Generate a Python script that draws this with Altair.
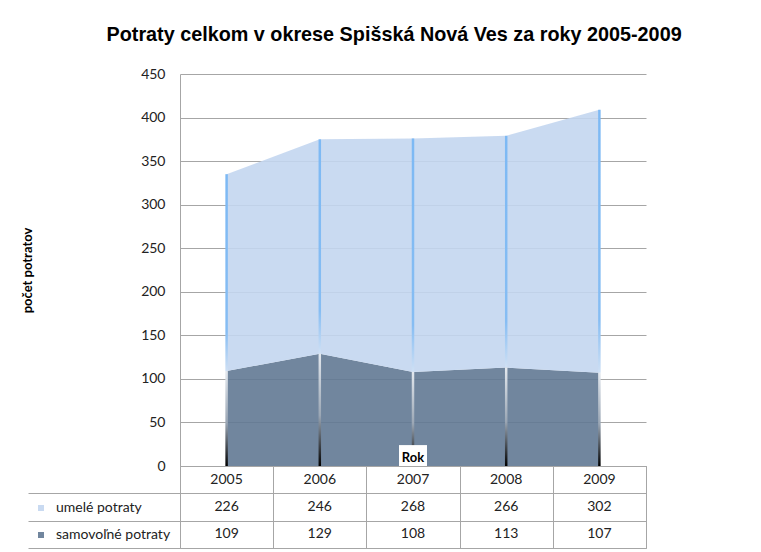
import altair as alt
import pandas as pd

years = ["2005", "2006", "2007", "2008", "2009"]
umele = [226, 246, 268, 266, 302]
samovolne = [109, 129, 108, 113, 107]
series_names = ["umelé potraty", "samovoľné potraty"]
series_colors = ["#c3d6ef", "#627993"]
y_ticks = [0, 50, 100, 150, 200, 250, 300, 350, 400, 450]

FONT = "Lato"
W, H, TH = 466, 392, 82
GRID = "#a6a6a6"

totals = [s + u for s, u in zip(samovolne, umele)]

long_rows = []
for i, yr in enumerate(years):
    long_rows.append({"Rok": yr, "séria": series_names[1], "dolné": 0, "horné": samovolne[i]})
    long_rows.append({"Rok": yr, "séria": series_names[0], "dolné": samovolne[i], "horné": totals[i]})
long = pd.DataFrame(long_rows)
wide = pd.DataFrame({"Rok": years, "sam": samovolne, "total": totals})

x_pt = alt.X("Rok:O", scale=alt.Scale(domain=years, type="point", padding=0.5), axis=None)
y_scale = alt.Scale(domain=[0, 450], nice=False)

area = alt.Chart(long).mark_area(opacity=0.9).encode(
    x=x_pt,
    y=alt.Y("horné:Q", scale=y_scale,
            axis=alt.Axis(values=y_ticks, grid=True, gridColor=GRID, gridWidth=1,
                          domainColor=GRID, ticks=False, labelFont=FONT, labelFontSize=14,
                          labelColor="#222", labelPadding=15,
                          title="počet potratov", titleFont=FONT, titleFontSize=13,
                          titleFontWeight="bold", titleColor="black", titlePadding=106)),
    y2="dolné:Q",
    color=alt.Color("séria:N",
                    scale=alt.Scale(domain=series_names, range=series_colors),
                    legend=alt.Legend(orient="none", legendX=-146, legendY=427, title=None,
                                      symbolType="square", symbolSize=36, symbolStrokeWidth=0,
                                      symbolOpacity=0.9,
                                      labelFont=FONT, labelFontSize=14, labelColor="#222",
                                      labelOffset=8, rowPadding=13, padding=0)),
)

blue_grad = alt.Gradient(gradient="linear",
                         stops=[alt.GradientStop(color="#7db9f4", offset=0),
                                alt.GradientStop(color="#86bdf3", offset=0.8),
                                alt.GradientStop(color="#cfe0f4", offset=1)],
                         x1=0, x2=0, y1=0, y2=1)
dark_grad = alt.Gradient(gradient="linear",
                         stops=[alt.GradientStop(color="#e3e8ee", offset=0),
                                alt.GradientStop(color="#9aa6b4", offset=0.55),
                                alt.GradientStop(color="#000000", offset=1)],
                         x1=0, x2=0, y1=0, y2=1)

blue_lines = alt.Chart(wide).mark_bar(size=2.5, color=blue_grad).encode(
    x=x_pt, y=alt.Y("total:Q", scale=y_scale), y2="sam:Q")
dark_lines = alt.Chart(wide).mark_bar(size=2.5, color=dark_grad).encode(
    x=x_pt, y=alt.Y("sam:Q", scale=y_scale), y2=alt.datum(0))

rok_df = pd.DataFrame({"Rok": ["2007"], "label": ["Rok"]})
rok_bg = alt.Chart(rok_df).mark_bar(size=28, color="white").encode(
    x=x_pt, y=alt.datum(0), y2=alt.datum(24))
rok_txt = alt.Chart(rok_df).mark_text(font=FONT, fontSize=13, fontWeight="bold",
                                      color="black", baseline="middle").encode(
    x=x_pt, y=alt.datum(9), text="label:N")

top = alt.layer(area, blue_lines, dark_lines, rok_bg, rok_txt).properties(
    width=W, height=H, view=alt.ViewBackground(stroke=None))

tab_rows = []
for i, yr in enumerate(years):
    tab_rows.append({"Rok": yr, "riadok": "hdr", "text": yr})
    tab_rows.append({"Rok": yr, "riadok": "u", "text": str(umele[i])})
    tab_rows.append({"Rok": yr, "riadok": "s", "text": str(samovolne[i])})
tab = pd.DataFrame(tab_rows)

table = alt.Chart(tab).mark_text(font=FONT, fontSize=14, color="#222", baseline="middle").encode(
    x=alt.X("Rok:N", scale=alt.Scale(domain=years, paddingInner=0, paddingOuter=0),
            axis=alt.Axis(labels=False, ticks=False, domain=False, title=None, grid=True,
                          tickBand="extent", gridColor=GRID)),
    y=alt.Y("riadok:N", scale=alt.Scale(domain=["hdr", "u", "s"], paddingInner=0, paddingOuter=0),
            axis=alt.Axis(labels=False, domain=False, title=None, grid=True, tickBand="extent",
                          gridColor=GRID, ticks=True, tickSize=152, tickColor=GRID,
                          tickOpacity={"condition": {"test": "datum.index < 0 || !isValid(datum.value)",
                                                     "value": 0},
                                       "value": 1})),
    text="text:N",
).properties(width=W, height=TH, view=alt.ViewBackground(stroke=GRID))

chart = alt.vconcat(top, table, spacing=0, bounds="flush").resolve_scale(
    color="independent"
).properties(
    title=alt.TitleParams("Potraty celkom v okrese Spišská Nová Ves za roky 2005-2009",
                          font="Liberation Sans", fontSize=19.8, fontWeight="bold",
                          color="black", anchor="middle", dx=60, offset=22),
    padding={"left": 13, "top": 17, "right": 10, "bottom": 0},
    background="white",
)

chart.save("out.html", embed_options={"renderer": "svg", "actions": False})
